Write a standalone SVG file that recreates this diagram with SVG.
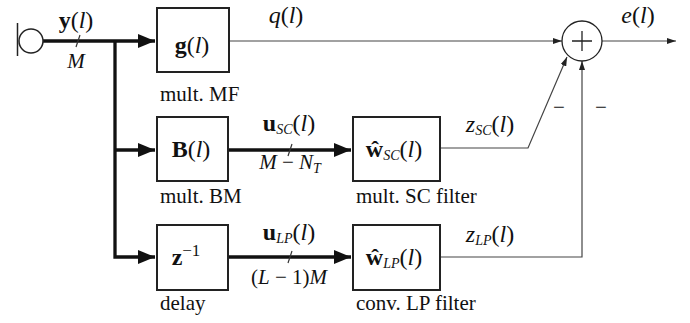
<svg xmlns="http://www.w3.org/2000/svg" width="690" height="323" viewBox="0 0 690 323">
<defs>
<marker id="ah" markerWidth="17" markerHeight="14" refX="17" refY="7" orient="auto" markerUnits="userSpaceOnUse"><path d="M0,0 L17,7 L0,14 z" fill="#111"/></marker>
<marker id="as" markerWidth="9" markerHeight="6" refX="9" refY="3" orient="auto" markerUnits="userSpaceOnUse"><path d="M0,0 L9,3 L0,6 z" fill="#222"/></marker>
</defs>
<g id="connectors">
<g fill="none" stroke="#111" stroke-width="3.3">
<path d="M43,41 H155" marker-end="url(#ah)"/>
<path d="M115,41 V257 H155" marker-end="url(#ah)"/>
<path d="M115,150 H155" marker-end="url(#ah)"/>
<path d="M228,150 H351" marker-end="url(#ah)"/>
<path d="M228,257 H351" marker-end="url(#ah)"/>
</g>
<g fill="none" stroke="#444" stroke-width="1.2">
<path d="M229,41 H562" marker-end="url(#as)"/>
<path d="M602,41 H676" marker-end="url(#as)"/>
<path d="M440,148 H528 L567,57" marker-end="url(#as)"/>
<path d="M440,257 H582 V61" marker-end="url(#as)"/>
</g>
<path d="M76,47 L80,35 M288,156 L292,144 M288,263 L292,251" stroke="#333" stroke-width="1.2"/>
</g>
<g id="source">
<line x1="17.5" y1="23" x2="17.5" y2="56" stroke="#222" stroke-width="1.5"/>
<circle cx="31" cy="41" r="12" fill="#fff" stroke="#222" stroke-width="1.5"/>
</g>
<g id="g">
<rect x="157" y="8" width="72" height="64" fill="#fff" stroke="#222" stroke-width="2"/>
<text font-family="Liberation Serif" font-size="24" fill="#111" x="192" y="53" text-anchor="middle"><tspan font-weight="bold">g</tspan>(<tspan font-style="italic">l</tspan>)</text>
<text font-family="Liberation Serif" font-size="21" fill="#111" x="160" y="101">mult. MF</text>
</g>
<g id="B">
<rect x="157" y="117" width="71" height="64" fill="#fff" stroke="#222" stroke-width="2"/>
<text font-family="Liberation Serif" font-size="24" fill="#111" x="191" y="157" text-anchor="middle"><tspan font-weight="bold">B</tspan>(<tspan font-style="italic">l</tspan>)</text>
<text font-family="Liberation Serif" font-size="21" fill="#111" x="160" y="203">mult. BM</text>
</g>
<g id="delay">
<rect x="157" y="225" width="71" height="65" fill="#fff" stroke="#222" stroke-width="2"/>
<text font-family="Liberation Serif" font-size="24" fill="#111" x="186" y="265" text-anchor="middle"><tspan font-weight="bold">z</tspan><tspan dy="-9" font-size="17">−1</tspan></text>
<text font-family="Liberation Serif" font-size="21" fill="#111" x="160" y="310">delay</text>
</g>
<g id="wsc">
<rect x="353" y="117" width="87" height="64" fill="#fff" stroke="#222" stroke-width="2"/>
<text font-family="Liberation Serif" font-size="24" fill="#111" x="394" y="157" text-anchor="middle"><tspan font-weight="bold">ŵ</tspan><tspan font-size="14" font-style="italic" dy="3">SC</tspan><tspan dy="-3">(</tspan><tspan font-style="italic">l</tspan>)</text>
<text font-family="Liberation Serif" font-size="21" fill="#111" x="356" y="203">mult. SC filter</text>
</g>
<g id="wlp">
<rect x="353" y="225" width="87" height="65" fill="#fff" stroke="#222" stroke-width="2"/>
<text font-family="Liberation Serif" font-size="24" fill="#111" x="394" y="265" text-anchor="middle"><tspan font-weight="bold">ŵ</tspan><tspan font-size="14" font-style="italic" dy="3">LP</tspan><tspan dy="-3">(</tspan><tspan font-style="italic">l</tspan>)</text>
<text font-family="Liberation Serif" font-size="21" fill="#111" x="356" y="310">conv. LP filter</text>
</g>
<g id="sum">
<circle cx="582" cy="41" r="20" fill="#fff" stroke="#222" stroke-width="1.3"/>
<path d="M572,41 H592 M582,31 V51" stroke="#222" stroke-width="1.3"/>
</g>
<g id="labels" font-family="Liberation Serif" fill="#111">
<text font-family="Liberation Serif" font-size="24" x="76" y="28" text-anchor="middle"><tspan font-weight="bold">y</tspan>(<tspan font-style="italic">l</tspan>)</text>
<text font-family="Liberation Serif" font-size="21" font-style="italic" x="76" y="68" text-anchor="middle">M</text>
<text font-family="Liberation Serif" font-size="24" x="286" y="23" text-anchor="middle"><tspan font-style="italic">q</tspan>(<tspan font-style="italic">l</tspan>)</text>
<text font-family="Liberation Serif" font-size="24" x="638" y="23" text-anchor="middle"><tspan font-style="italic">e</tspan>(<tspan font-style="italic">l</tspan>)</text>
<text font-family="Liberation Serif" font-size="24" x="289" y="131" text-anchor="middle"><tspan font-weight="bold">u</tspan><tspan font-size="14" font-style="italic" dy="3">SC</tspan><tspan dy="-3">(</tspan><tspan font-style="italic">l</tspan>)</text>
<text font-family="Liberation Serif" font-size="21" x="290" y="169" text-anchor="middle"><tspan font-style="italic">M</tspan> − <tspan font-style="italic">N</tspan><tspan font-size="14" font-style="italic" dy="4">T</tspan></text>
<text font-family="Liberation Serif" font-size="24" x="289" y="240" text-anchor="middle"><tspan font-weight="bold">u</tspan><tspan font-size="14" font-style="italic" dy="3">LP</tspan><tspan dy="-3">(</tspan><tspan font-style="italic">l</tspan>)</text>
<text font-family="Liberation Serif" font-size="21" x="289" y="284" text-anchor="middle">(<tspan font-style="italic">L</tspan> − 1)<tspan font-style="italic">M</tspan></text>
<text font-family="Liberation Serif" font-size="24" x="490" y="132" text-anchor="middle"><tspan font-style="italic">z</tspan><tspan font-size="14" font-style="italic" dy="3">SC</tspan><tspan dy="-3">(</tspan><tspan font-style="italic">l</tspan>)</text>
<text font-family="Liberation Serif" font-size="24" x="490" y="242" text-anchor="middle"><tspan font-style="italic">z</tspan><tspan font-size="14" font-style="italic" dy="3">LP</tspan><tspan dy="-3">(</tspan><tspan font-style="italic">l</tspan>)</text>
<text font-family="Liberation Serif" font-size="21" x="559" y="114" text-anchor="middle">−</text>
<text font-family="Liberation Serif" font-size="21" x="601" y="114" text-anchor="middle">−</text>
</g>
</svg>
